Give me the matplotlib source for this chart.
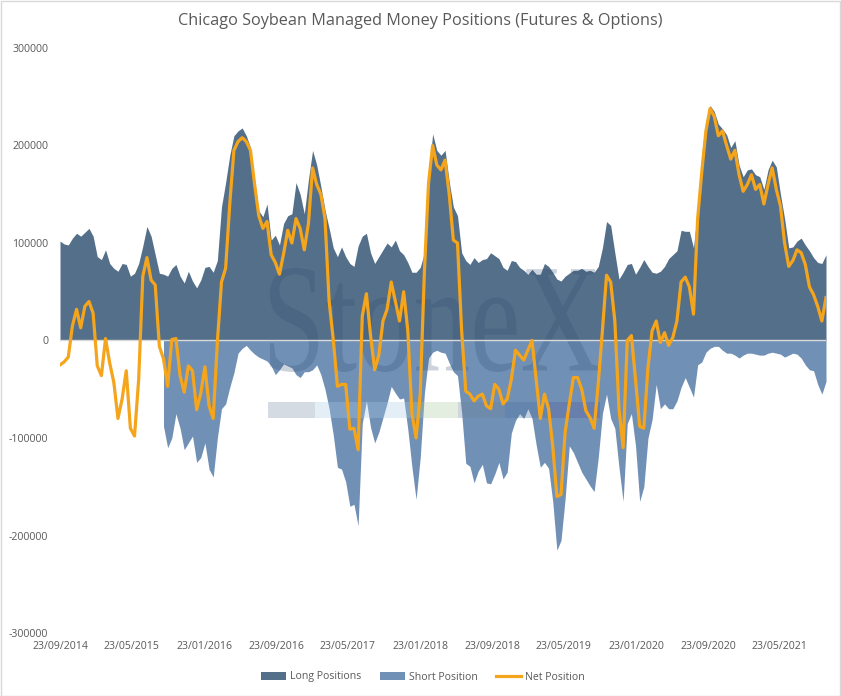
import numpy as np
import pandas as pd
import matplotlib
matplotlib.use("Agg")
import matplotlib.pyplot as plt
from matplotlib.ticker import FuncFormatter
from matplotlib.patches import Patch, Rectangle, PathPatch
from matplotlib.lines import Line2D
from matplotlib.textpath import TextPath
from matplotlib.font_manager import FontProperties
from matplotlib.transforms import Affine2D, IdentityTransform

plt.rcParams['font.family'] = ['Open Sans', 'DejaVu Sans']

# fortnightly readings, thousands of contracts
start_date = '2014-09-23'

long_pos = [
    102, 99, 98, 105, 110, 107, 111, 115, 107, 86, 83, 93, 79, 74, 71, 79, 78, 66, 69, 79,
    97, 117, 107, 88, 69, 68, 66, 74, 78, 66, 59, 71, 61, 54, 62,
    75, 76, 70, 82, 137, 162, 190, 210, 215, 218, 210, 198, 165, 133, 127,
    140, 103, 108, 98, 120, 128, 130, 162, 150, 130, 165, 195, 180, 158, 134,
    115, 95, 86, 96, 86, 79, 76, 97, 107, 110,
    90, 79, 86, 93, 100, 96, 103, 92, 88, 80, 70, 70, 75, 90, 168,
    212, 195, 190, 195, 163, 137, 128, 90, 82, 78, 85, 80, 83, 84, 90, 87, 84, 75, 72,
    82, 81, 75, 72, 68, 73, 68, 68, 79, 76, 70, 63, 61, 66, 69,
    72, 72, 74, 71, 72, 70, 76, 95, 122, 118, 90, 63, 70, 78, 79, 68, 75, 83, 76, 70,
    69, 71, 76, 84, 88, 92, 113, 112, 112, 95, 135, 191, 225, 241, 235,
    222, 217, 211, 198, 205, 180, 168, 175, 176, 170, 168, 155, 175, 185, 178,
    150, 125, 95, 96, 102, 105, 98, 92, 85, 80, 79, 88,
]

short_pos = [np.nan] * 25 + [
    -88, -110, -100, -75, -90, -112, -105, -98, -125, -120,
    -105, -132, -140, -100, -70, -65, -48, -33, -13, -8,
    -5, -10, -14, -17, -19, -21, -26, -35, -30, -24,
    -26, -28, -35, -38, -32, -32, -30, -25, -35, -50,
    -70, -97, -130, -132, -145, -170, -168, -190, -85, -62,
    -89, -105, -94, -79, -64, -47, -54, -60, -59, -91,
    -130, -163, -120, -54, -18, -12, -10, -12, -13, -23,
    -32, -36, -74, -126, -129, -146, -134, -127, -146, -147,
    -137, -125, -142, -135,
    -95, -82, -75, -80, -70, -80, -107, -130, -125, -131,
    -165, -215, -205, -162, -108, -115, -125, -135, -142, -149,
    -155, -120, -75, -55, -80, -90, -130, -165, -85, -75,
    -108, -165, -150, -100, -81,
    -45, -70, -65, -70, -70, -62, -48, -38, -48, -58,
    -25, -22, -12, -8, -6, -6, -10, -13, -13, -15,
    -18, -15, -13, -13, -14, -15, -15, -13, -12, -13,
    -14, -17, -15, -13, -14, -18, -25, -30, -31, -45, -55, -42,
]

net_pos = [
    -25, -22, -17, 15, 32, 13, 35, 40, 28, -26, -36, 2, -23, -43, -80,
    -60, -31, -90, -98, -40, 66, 85, 62, 57, -6, -19, -47, 1, 2, -36,
    -53, -26, -31, -71, -54,
    -27, -67, -80, -2, 60, 74, 140, 195, 204, 208, 204, 195, 160, 128, 115,
    122, 88, 80, 68, 89, 113, 100, 125, 115, 93, 120, 177, 160, 150, 125,
    40, 1, -47, -45, -45, -91, -90, -112, 25, 48,
    5, -30, -15, 20, 32, 60, 40, 20, 50, 10, -75, -100, -55, 70, 161,
    200, 180, 175, 185, 150, 103, 100, 10, -52, -55, -62, -57, -55, -67, -70,
    -45, -50, -65, -60,
    -40, -10, -15, -20, -10, 0, -40, -80, -55, -70, -108, -160, -158, -94, -65,
    -38, -38, -50, -72, -79, -90, -44, 10, 67, 60, 20, -70, -110, 0, 5,
    -40, -88, -90, -28, 10,
    20, -2, 8, -5, 3, 20, 60, 65, 55, 27, 125, 173, 215, 238, 230,
    210, 215, 200, 186, 195, 170, 153, 160, 170, 155, 160, 140, 160, 177, 155,
    138, 100, 76, 82, 93, 90, 78, 55, 47, 35, 20, 44,
]

tick_labels = ['23/09/2014', '23/05/2015', '23/01/2016', '23/09/2016', '23/05/2017',
               '23/01/2018', '23/09/2018', '23/05/2019', '23/01/2020', '23/09/2020',
               '23/05/2021']

LONG_C = '#546f89'
SHORT_C = '#7090b6'
NET_C = '#f5a51c'
TXT_C = '#595959'


def thousands_formatter(x, pos):
    return f'{int(round(x * 1000))}'


def add_watermark(ax, fig_h):
    # StoneX logo text, stretched to the size seen on the chart (pixel coords)
    tp = TextPath((0, 0), "StoneX", size=100,
                  prop=FontProperties(family='Liberation Serif'))
    bb = tp.get_extents()
    trf = Affine2D().translate(-bb.x0, -bb.y0) \
        .scale(330 / bb.width, 104 / bb.height).translate(270, fig_h - 372)
    ax.add_patch(PathPatch(tp, transform=trf, facecolor='#2c4a6e',
                           edgecolor='none', alpha=0.24, zorder=2))
    segs = [(268, 315, '#7f8fa8'), (315, 410, '#a8cbe6'), (410, 458, '#a9cba3'),
            (458, 505, '#6f8299'), (505, 550, '#4a6f9e'), (550, 600, '#5a5a9a')]
    for x0, x1, c in segs:
        ax.add_patch(Rectangle((x0, fig_h - 418), x1 - x0, 16.5,
                               transform=IdentityTransform(), facecolor=c,
                               edgecolor='none', alpha=0.32, zorder=2))


def main():
    W, H = 841, 696
    dates = pd.date_range(start_date, periods=len(long_pos), freq='14D')
    longs = np.array(long_pos, dtype=float)
    shorts = np.array(short_pos, dtype=float)
    nets = np.array(net_pos, dtype=float)

    fig = plt.figure(figsize=(W / 100, H / 100), dpi=100)
    ax = fig.add_axes([60 / W, 63 / H, 766 / W, 585 / H])

    ax.fill_between(dates, 0, longs, color=LONG_C, lw=0, zorder=1)
    ax.fill_between(dates, 0, shorts, color=SHORT_C, lw=0, zorder=1)
    add_watermark(ax, H)
    ax.axhline(0, color='#d9d9d9', lw=1, zorder=3)
    ax.plot(dates, nets, color=NET_C, lw=2.3, zorder=4, solid_joinstyle='round')

    ax.set_xlim(dates[0], dates[-1])
    ax.set_ylim(-300, 300)
    ax.set_yticks(np.arange(-300, 301, 100))
    ax.yaxis.set_major_formatter(FuncFormatter(thousands_formatter))
    ticks = pd.to_datetime(tick_labels, format='%d/%m/%Y')
    ax.set_xticks(ticks)
    ax.set_xticklabels(tick_labels)
    ax.tick_params(axis='both', length=0, labelsize=7.6, labelcolor=TXT_C)
    ax.tick_params(axis='y', pad=8.5)
    ax.tick_params(axis='x', pad=6)
    for s in ax.spines.values():
        s.set_visible(False)

    fig.text(420 / W, 1 - 21 / H,
             'Chicago Soybean Managed Money Positions (Futures & Options)',
             ha='center', va='center', fontsize=11.7, color=TXT_C)

    handles = [Patch(facecolor=LONG_C, label='Long Positions'),
               Patch(facecolor=SHORT_C, label='Short Position'),
               Line2D([], [], color=NET_C, lw=2.3, label='Net Position')]
    leg = fig.legend(handles=handles, loc='center', ncol=3, frameon=False,
                     bbox_to_anchor=(423 / W, 1 - 677 / H), fontsize=7.6,
                     handlelength=2.4, handletextpad=0.4, columnspacing=1.7)
    for t in leg.get_texts():
        t.set_color(TXT_C)

    fig.patches.append(Rectangle((0.5 / W, 0.5 / H), 1 - 1.5 / W, 1 - 1.5 / H,
                                 transform=fig.transFigure, fill=False,
                                 edgecolor='#d9d9d9', lw=1))
    fig.savefig('out.png', dpi=100)


if __name__ == "__main__":
    main()
